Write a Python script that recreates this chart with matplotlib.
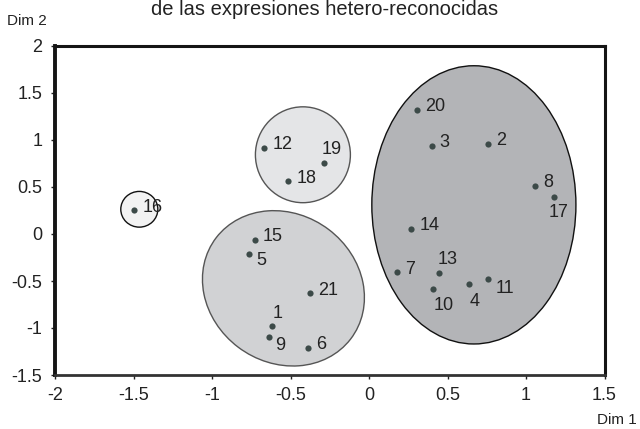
import matplotlib
matplotlib.use('Agg')
import matplotlib.pyplot as plt
from matplotlib.patches import Ellipse

plt.rcParams['font.family'] = ['Liberation Sans', 'DejaVu Sans']
plt.rcParams['axes.unicode_minus'] = False

# coordenadas de las expresiones en las dos dimensiones
labels = ['1', '2', '3', '4', '5', '6', '7', '8', '9', '10', '11',
          '12', '13', '14', '15', '16', '17', '18', '19', '20', '21']
dim1 = [-0.616, 0.758, 0.399, 0.639, -0.766, -0.387, 0.178, 1.057, -0.637, 0.410, 0.758,
        -0.667, 0.448, 0.268, -0.726, -1.495, 1.176, -0.514, -0.287, 0.308, -0.376]
dim2 = [-0.982, 0.961, 0.936, -0.535, -0.213, -1.209, -0.408, 0.514, -1.096, -0.582, -0.479,
        0.918, -0.411, 0.053, -0.064, 0.252, 0.394, 0.560, 0.752, 1.319, -0.631]

# grupos: centro, ancho, alto, giro
group_center = [(-1.463, 0.263), (-0.421, 0.843), (-0.545, -0.578), (0.668, 0.310)]
group_width = [0.236, 0.605, 1.02, 1.30]
group_height = [0.38, 1.02, 1.66, 2.96]
group_angle = [0, 0, 6.8, 0]
group_face = ['#f2f2f2', '#e4e5e7', '#d1d2d4', '#b3b4b7']
group_edge = ['#111111', '#555555', '#555555', '#111111']

xticks = [-2, -1.5, -1, -0.5, 0, 0.5, 1, 1.5]
xticklabels = ['-2', '-1.5', '-1', '-0.5', '0', '0.5', '1', '1.5']
yticks = [-1.5, -1, -0.5, 0, 0.5, 1, 1.5, 2]
yticklabels = ['-1.5', '-1', '-0.5', '0', '0.5', '1', '1.5', '2']

# desplazamiento de las etiquetas (puntos)
default_off = (5.8, 2.2)
label_off = {'1': (0, 9.4), '5': (5.8, -5), '9': (4.3, -5.8), '10': (0, -12.2),
             '4': (0, -12.2), '11': (5.8, -6.5), '13': (-1.4, 9.1),
             '17': (-3.6, -11.5), '19': (-1.4, 10), '16': (5.8, 2.0)}

fig = plt.figure(figsize=(6.4, 4.29), dpi=100)
ax = fig.add_axes([55 / 640, 54 / 429, 549.5 / 640, 329 / 429])

for c, w, h, a, fc, ec in zip(group_center, group_width, group_height,
                              group_angle, group_face, group_edge):
    ax.add_patch(Ellipse(c, w, h, angle=a, facecolor=fc, edgecolor=ec,
                         linewidth=1.0, zorder=1))

ax.scatter(dim1, dim2, s=20, color='#3c4a48', zorder=3, linewidths=0)
for lab, x, y in zip(labels, dim1, dim2):
    dx, dy = label_off.get(lab, default_off)
    ax.annotate(lab, (x, y), xytext=(dx, dy), textcoords='offset points',
                ha='left', va='center', fontsize=13, color='#222222', zorder=4)

ax.set_xlim(-2, 1.5)
ax.set_ylim(-1.5, 2)
ax.set_xticks(xticks)
ax.set_xticklabels(xticklabels)
ax.set_yticks(yticks)
ax.set_yticklabels(yticklabels)
ax.tick_params(axis='both', direction='out', length=3, width=1, labelsize=13,
               colors='#222222')
ax.tick_params(axis='x', pad=6)
ax.tick_params(axis='y', pad=6)

ax.spines['left'].set_linewidth(2.8)
ax.spines['top'].set_linewidth(2.2)
ax.spines['right'].set_linewidth(2.2)
ax.spines['bottom'].set_linewidth(2.0)
ax.spines['bottom'].set_color('#333333')
for s in ['left', 'top', 'right']:
    ax.spines[s].set_color('#151515')

fig.text(27 / 640, 1 - 21 / 429, 'Dim 2', ha='center', va='center', fontsize=11, color='#222222')
fig.text(637 / 640, 1 - 420 / 429, 'Dim 1', ha='right', va='center', fontsize=11, color='#222222')
fig.text(325 / 640, 1 - 15 / 429, 'de las expresiones hetero-reconocidas',
         ha='center', va='baseline', fontsize=14.5, color='#222222')

fig.savefig('out.png', dpi=100)
